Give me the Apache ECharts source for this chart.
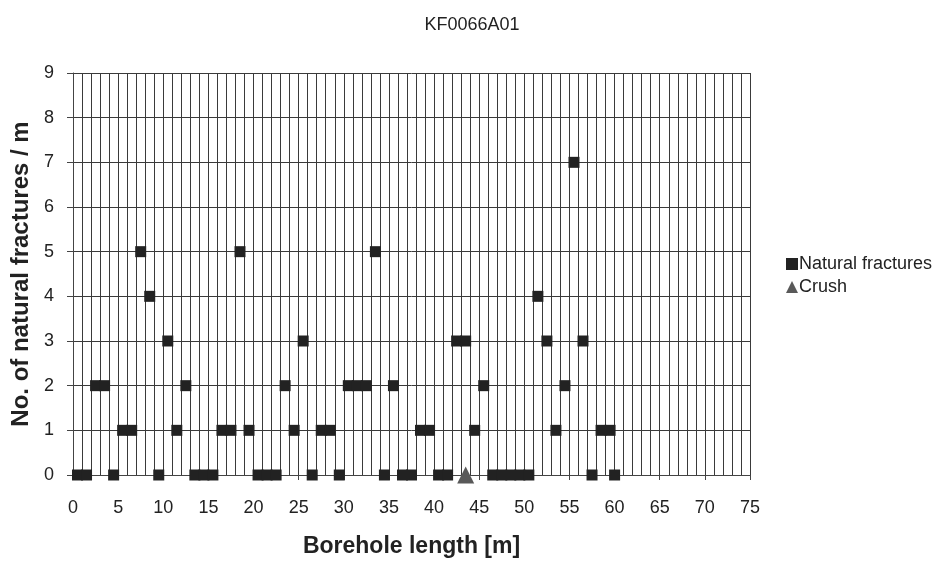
<!DOCTYPE html>
<html>
<head>
<meta charset="utf-8">
<script src="https://cdn.jsdelivr.net/npm/echarts@6/dist/echarts.min.js"></script>
<style>html,body{margin:0;padding:0;background:#fff}#c{width:939px;height:563px}</style>
</head>
<body>
<div id="c"></div>
<script>
const depths = [0.5,1.5,2.5,3.5,4.5,5.5,6.5,7.5,8.5,9.5,10.5,11.5,12.5,13.5,14.5,15.5,16.5,17.5,18.5,19.5,20.5,21.5,22.5,23.5,24.5,25.5,26.5,27.5,28.5,29.5,30.5,31.5,32.5,33.5,34.5,35.5,36.5,37.5,38.5,39.5,40.5,41.5,42.5,43.5,44.5,45.5,46.5,47.5,48.5,49.5,50.5,51.5,52.5,53.5,54.5,55.5,56.5,57.5,58.5,59.5,60];
const fractures = [0,0,2,2,0,1,1,5,4,0,3,1,2,0,0,0,1,1,5,1,0,0,0,2,1,3,0,1,1,0,2,2,2,5,0,2,0,0,1,1,0,0,3,3,1,2,0,0,0,0,0,4,3,1,2,7,3,0,1,1,0];
const crushDepths = [43.5];
const crushValues = [0];

const font = '"Liberation Sans", Arial, sans-serif';
const chart = echarts.init(document.getElementById('c'), null, {renderer: 'canvas'});
chart.setOption({
  animation: false,
  backgroundColor: '#fff',
  title: {
    text: 'KF0066A01', left: 467, top: 11, textAlign: 'center',
    textStyle: {fontFamily: font, fontSize: 18, fontWeight: 'normal', color: '#222'}
  },
  grid: {left: 73, right: 189, top: 73, bottom: 86, containLabel: false},
  legend: {
    orient: 'vertical', left: 781, top: 250, itemGap: 5, itemWidth: 12, itemHeight: 12,
    textStyle: {fontFamily: font, fontSize: 18, color: '#222', padding: [0,0,0,-4]},
    data: [{name: 'Natural fractures', icon: 'rect'}, {name: 'Crush', icon: 'triangle'}]
  },
  xAxis: {
    type: 'value', min: 0, max: 75, interval: 5,
    name: 'Borehole length [m]', nameLocation: 'middle', nameGap: 60,
    nameTextStyle: {fontFamily: font, fontSize: 23, fontWeight: 'bold', color: '#222'},
    axisLine: {show: true, onZero: false, lineStyle: {color: '#444', width: 1}},
    axisTick: {show: true, inside: false, length: 5, lineStyle: {color: '#444'}},
    minorTick: {show: false, splitNumber: 5},
    axisLabel: {fontFamily: font, fontSize: 18, color: '#222', margin: 24},
    splitLine: {show: true, lineStyle: {color: '#3a3a3a', width: 1}},
    minorSplitLine: {show: true, lineStyle: {color: '#3a3a3a', width: 1}}
  },
  yAxis: {
    type: 'value', min: 0, max: 9, interval: 1,
    name: 'No. of natural fractures / m', nameLocation: 'middle', nameGap: 40,
    nameTextStyle: {fontFamily: font, fontSize: 24, fontWeight: 'bold', color: '#222'},
    axisLine: {show: true, lineStyle: {color: '#444', width: 1}},
    axisTick: {show: true, inside: false, length: 6, lineStyle: {color: '#444'}},
    axisLabel: {fontFamily: font, fontSize: 18, color: '#222', margin: 19},
    splitLine: {show: true, lineStyle: {color: '#3a3a3a', width: 1}}
  },
  series: [
    {
      name: 'Natural fractures', type: 'scatter', symbol: 'rect', symbolSize: 11,
      itemStyle: {color: '#222', opacity: 1},
      data: depths.map((d, i) => [d, fractures[i]])
    },
    {
      name: 'Crush', type: 'scatter', symbol: 'triangle', symbolSize: [17, 17],
      itemStyle: {color: '#595959', opacity: 1},
      data: crushDepths.map((d, i) => [d, crushValues[i]])
    }
  ]
});
</script>
</body>
</html>
